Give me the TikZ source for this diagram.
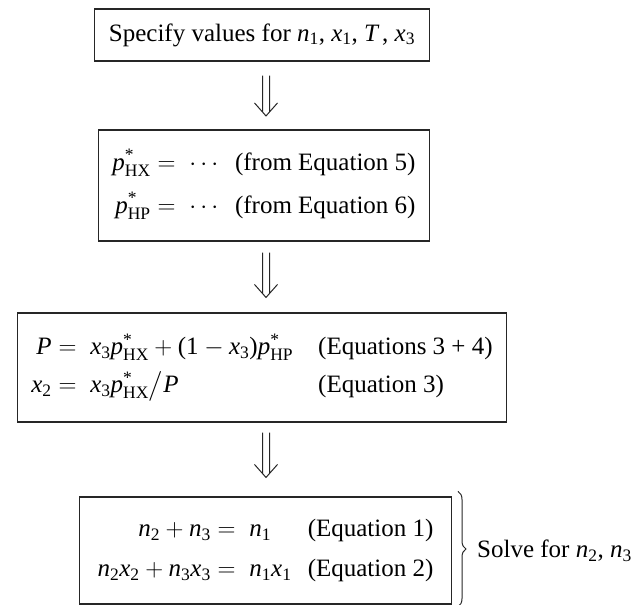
\documentclass[tikz,border=0pt]{standalone}
\usepackage{amsmath}
\usepackage{fontspec}
\setmainfont{Liberation Serif}
\usetikzlibrary{calc,decorations.pathreplacing}
\newcommand{\vi}[1]{\text{\itshape #1}}
\newcommand{\vs}[2]{\vi{#1}_{\text{#2}}}
\newcommand{\pst}[1]{\vi{p}^{\text{*}}_{\text{#1}}}
\newcommand{\dnarrow}[4]{%
  \path ($(#1.south -| ax)+(0,#3)$) coordinate (t) ($(#2.north -| ax)+(0,-#4)$) coordinate (a);
  \draw[arr] ($(t)+(-3.5,0)$) -- ($(a)+(-3.5,-4)$)
             ($(t)+(3.5,0)$) -- ($(a)+(3.5,-4)$)
             ($(a)+(-11.5,-13)$) -- (a) -- ($(a)+(11.5,-13)$);}
\begin{document}
\begin{tikzpicture}[x=1pt,y=-1pt,
  font=\fontsize{25}{30}\selectfont,
  box/.style={draw=black!85, line width=1.1pt, inner xsep=14pt, inner ysep=0pt, align=center},
  arr/.style={draw=black!85, line width=1pt},
  bracestyle/.style={draw=black!85, line width=1pt, decorate, decoration={brace, amplitude=8pt}}]
\useasboundingbox (0,0) rectangle (632,605);
\coordinate (ax) at (266,0);
\node[box, minimum height=52pt] (b1) at (262,35)
  {Specify values for $\vs{n}{1}$, $\vs{x}{1}$, $\vi{T}$\,, $\vs{x}{3}$};
\node[box, minimum height=111pt] (b2) at (264,185.5)
  {\begin{tabular}{@{}r@{}l@{}}
   $\pst{HX}$ & $\;=\;\cdots$\enspace(from Equation 5)\\[13pt]
   $\pst{HP}$ & $\;=\;\cdots$\enspace(from Equation 6)
   \end{tabular}};
\node[box, minimum height=109pt] (b3) at (262,367.5)
  {\begin{tabular}{@{}r@{}l@{\hspace{1em}}l@{}}
   $\vi{P}$ & $\;=\;\vs{x}{3}\pst{HX} + \text{(1} - \vs{x}{3}\text{)}\pst{HP}$ & (Equations 3 + 4)\\[8pt]
   $\vs{x}{2}$ & $\;=\;\vs{x}{3}\pst{HX}\big/\vi{P}$ & (Equation 3)
   \end{tabular}};
\node[box, minimum height=107pt, inner xsep=18pt, anchor=east] (b4) at (452,550.5)
  {\begin{tabular}{@{}r@{}l@{\hspace{0.65em}}l@{}}
   $\vs{n}{2} + \vs{n}{3}$ & $\;=\;\vs{n}{1}$ & (Equation 1)\\[10pt]
   $\vs{n}{2}\vs{x}{2} + \vs{n}{3}\vs{x}{3}$ & $\;=\;\vs{n}{1}\vs{x}{1}$ & (Equation 2)
   \end{tabular}};
\dnarrow{b1}{b2}{14}{13.5}
\dnarrow{b2}{b3}{11}{15}
\dnarrow{b3}{b4}{10}{19}
\draw[bracestyle] ($(b4.north east)+(6,-5)$) -- ($(b4.south east)+(6,2)$);
\node[anchor=west, inner sep=0pt] (solve) at ($(b4.east)+(25,0)$) {Solve for $\vs{n}{2}$, $\vs{n}{3}$};
\end{tikzpicture}
\end{document}
